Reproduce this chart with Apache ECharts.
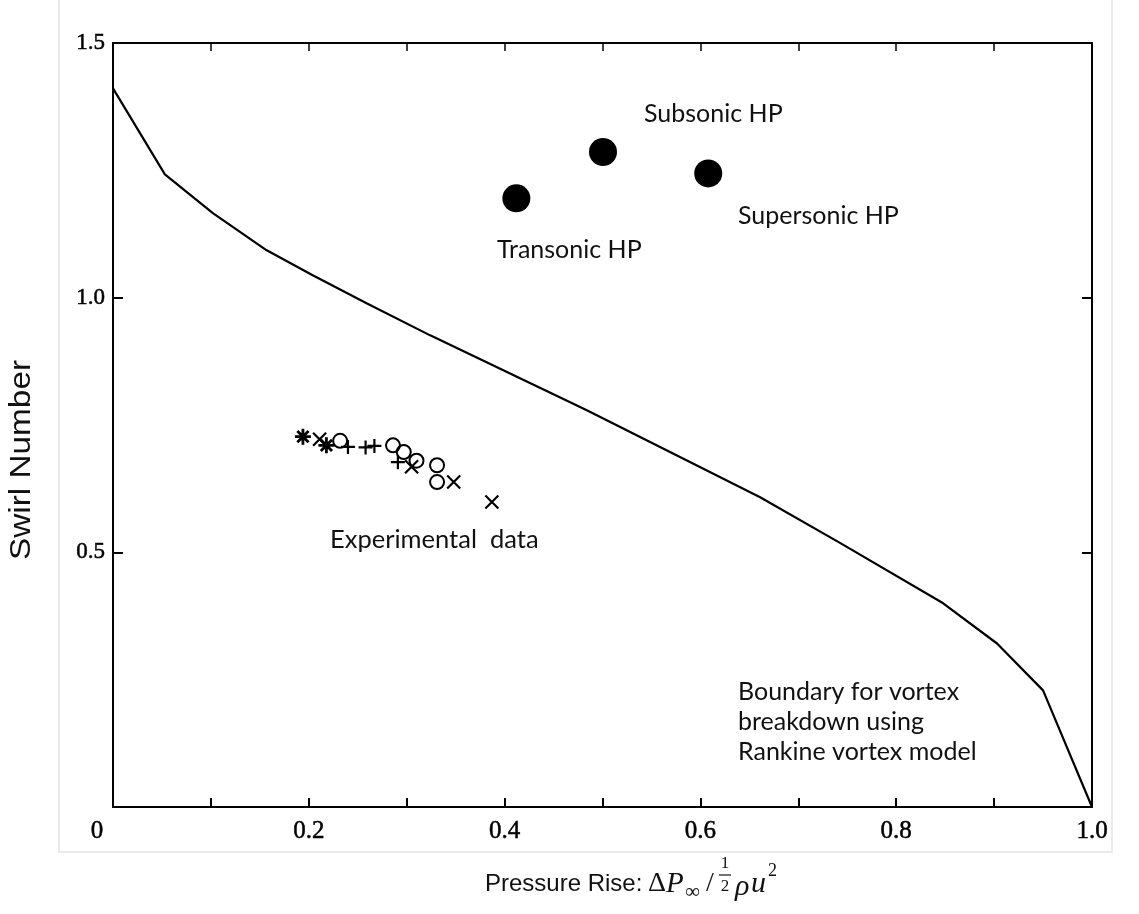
<!DOCTYPE html>
<html><head><meta charset="utf-8">
<script src="https://cdn.jsdelivr.net/npm/echarts@6/dist/echarts.min.js"></script>
<style>html,body{margin:0;padding:0;background:#fff}#c{width:1139px;height:914px}</style>
</head><body><div id="c"></div>
<script>
// Boundary curve (Rankine vortex model)
const boundaryX = [0, 0.053, 0.102, 0.157, 0.204, 0.259, 0.324, 0.484, 0.661, 0.743, 0.848, 0.903, 0.950, 1.0];
const boundaryY = [1.411, 1.242, 1.166, 1.093, 1.044, 0.989, 0.926, 0.779, 0.608, 0.518, 0.400, 0.321, 0.229, 0.0];
// Heat pipe cases
const hpX = [0.412, 0.5005, 0.608];
const hpY = [1.195, 1.286, 1.244];
// Experimental data by marker type
const astX = [0.194, 0.218];
const astY = [0.727, 0.710];
const circX = [0.232, 0.286, 0.297, 0.310, 0.331, 0.331];
const circY = [0.719, 0.710, 0.697, 0.680, 0.671, 0.638];
const plusX = [0.240, 0.258, 0.267, 0.291];
const plusY = [0.707, 0.706, 0.709, 0.677];
const crossX = [0.211, 0.305, 0.348, 0.387];
const crossY = [0.722, 0.668, 0.638, 0.599];
// Ticks
const xTickLabels = ['0', '0.2', '0.4', '0.6', '0.8', '1.0'];
const yTickLabels = ['0.5', '1.0', '1.5'];

const zip = (a, b) => a.map((v, i) => [v, b[i]]);
const SERIF = '"Liberation Serif", "Times New Roman", serif';
const SANS = '"Liberation Sans", Arial, sans-serif';
const ANN = 'Lato, "Open Sans", sans-serif';
const MATH = '"Liberation Serif", "DejaVu Serif", serif';
const INK = '#111';

const chart = echarts.init(document.getElementById('c'), null, {renderer: 'canvas'});

const strokeSym = {color: 'rgba(0,0,0,0)', borderColor: '#000', borderWidth: 2.2, opacity: 1};
const xTickFont = {color: '#000', fontFamily: SERIF, fontSize: 25, textBorderColor: '#000', textBorderWidth: 0.5};
const yTickFont = {color: '#000', fontFamily: SERIF, fontSize: 23, textBorderColor: '#000', textBorderWidth: 0.5};

function mathText(x, y, text, font, align) {
  return {type: 'text', x: x, y: y, style: {text: text, font: font, fill: INK, align: align || 'left', verticalAlign: 'middle'}};
}

const option = {
  backgroundColor: '#fff',
  animation: false,
  grid: {left: 113, right: 47, top: 43, bottom: 107, containLabel: false},
  xAxis: [{
    type: 'value', min: 0, max: 1, interval: 0.1, position: 'bottom',
    axisLine: {show: true, onZero: false, lineStyle: {color: '#000', width: 2}},
    axisTick: {show: true, inside: true, length: 9, lineStyle: {color: '#000', width: 2}},
    splitLine: {show: false},
    axisLabel: Object.assign({
      margin: 12,
      formatter: v => {
        const k = Math.round(v * 10);
        if (k % 2) return '';
        const s = xTickLabels[k / 2];
        return k === 0 ? '{z|' + s + '}' : s;
      },
      rich: {z: Object.assign({padding: [0, 32, 0, 0]}, xTickFont)}
    }, xTickFont)
  }, {
    type: 'value', min: 0, max: 1, interval: 0.1, position: 'top',
    axisLine: {show: true, onZero: false, lineStyle: {color: '#000', width: 2}},
    axisTick: {show: true, inside: true, length: 8, lineStyle: {color: '#000', width: 1.5}},
    splitLine: {show: false}, axisLabel: {show: false}
  }],
  yAxis: [{
    type: 'value', min: 0, max: 1.5, interval: 0.5, position: 'left',
    axisLine: {show: true, onZero: false, lineStyle: {color: '#000', width: 2}},
    axisTick: {show: true, inside: true, length: 10, lineStyle: {color: '#000', width: 2}},
    splitLine: {show: false},
    axisLabel: Object.assign({
      margin: 8,
      formatter: v => { const k = Math.round(v * 2); return k === 0 ? '' : yTickLabels[k - 1]; }
    }, yTickFont)
  }, {
    type: 'value', min: 0, max: 1.5, interval: 0.5, position: 'right',
    axisLine: {show: true, onZero: false, lineStyle: {color: '#000', width: 2}},
    axisTick: {show: true, inside: true, length: 10, lineStyle: {color: '#000', width: 2}},
    splitLine: {show: false}, axisLabel: {show: false}
  }],
  series: [
    {type: 'line', data: zip(boundaryX, boundaryY), symbol: 'none', lineStyle: {color: '#000', width: 2.2}, z: 3},
    {type: 'scatter', data: zip(hpX, hpY), symbol: 'circle', symbolSize: 28, itemStyle: {color: '#000', opacity: 1}},
    {type: 'scatter', data: zip(circX, circY), symbol: 'circle', symbolSize: 14, itemStyle: {color: 'rgba(0,0,0,0)', borderColor: '#000', borderWidth: 2, opacity: 1}},
    {type: 'scatter', data: zip(plusX, plusY), symbol: 'path://M5,0L5,10M0,5L10,5', symbolSize: 14, itemStyle: strokeSym},
    {type: 'scatter', data: zip(crossX, crossY), symbol: 'path://M0,0L10,10M10,0L0,10', symbolSize: 13, itemStyle: strokeSym},
    {type: 'scatter', data: zip(astX, astY), symbol: 'path://M5,0L5,10M0,5L10,5M1.5,1.5L8.5,8.5M8.5,1.5L1.5,8.5', symbolSize: 16, itemStyle: {color: 'rgba(0,0,0,0)', borderColor: '#000', borderWidth: 2.8, opacity: 1}}
  ],
  graphic: [
    {type: 'rect', silent: true, z: -10, shape: {x: 59, y: -2, width: 1053, height: 854}, style: {fill: 'none', stroke: '#e4e4e4', lineWidth: 1.5}},
    {type: 'text', x: 644, y: 114, style: {text: 'Subsonic HP', font: '25px ' + ANN, fill: INK, verticalAlign: 'middle'}},
    {type: 'text', x: 497, y: 250, style: {text: 'Transonic HP', font: '25px ' + ANN, fill: INK, verticalAlign: 'middle'}},
    {type: 'text', x: 738, y: 216, style: {text: 'Supersonic HP', font: '25px ' + ANN, fill: INK, verticalAlign: 'middle'}},
    {type: 'text', x: 330, y: 540, style: {text: 'Experimental  data', font: '25.5px ' + ANN, fill: INK, verticalAlign: 'middle'}},
    {type: 'text', x: 738, y: 677, style: {text: 'Boundary for vortex\nbreakdown using\nRankine vortex model', font: '25px ' + ANN, fill: INK, verticalAlign: 'top', lineHeight: 30}},
    {type: 'text', x: 22, y: 460, rotation: Math.PI / 2, scaleX: 1.15, style: {text: 'Swirl Number', font: '29px ' + SANS, fill: INK, align: 'center', verticalAlign: 'middle'}},
    {type: 'text', x: 485, y: 884, style: {text: 'Pressure Rise:', font: '24px ' + SANS, fill: INK, verticalAlign: 'middle'}},
    mathText(648, 884, 'Δ', '28px ' + MATH),
    mathText(666, 884, 'P', 'italic 29px ' + MATH),
    mathText(685, 892, '∞', '21px ' + MATH),
    mathText(706, 884, '/', '28px ' + MATH),
    mathText(725, 864, '1', '17px ' + MATH, 'center'),
    {type: 'line', shape: {x1: 719, y1: 875, x2: 731, y2: 875}, style: {stroke: INK, lineWidth: 1.2}},
    mathText(725, 887, '2', '17px ' + MATH, 'center'),
    mathText(735, 887, 'ρ', 'italic 30px ' + MATH),
    mathText(751, 884, 'u', 'italic 30px ' + MATH),
    mathText(768, 871, '2', '18px ' + MATH)
  ]
};
chart.setOption(option);
</script>
</body></html>
